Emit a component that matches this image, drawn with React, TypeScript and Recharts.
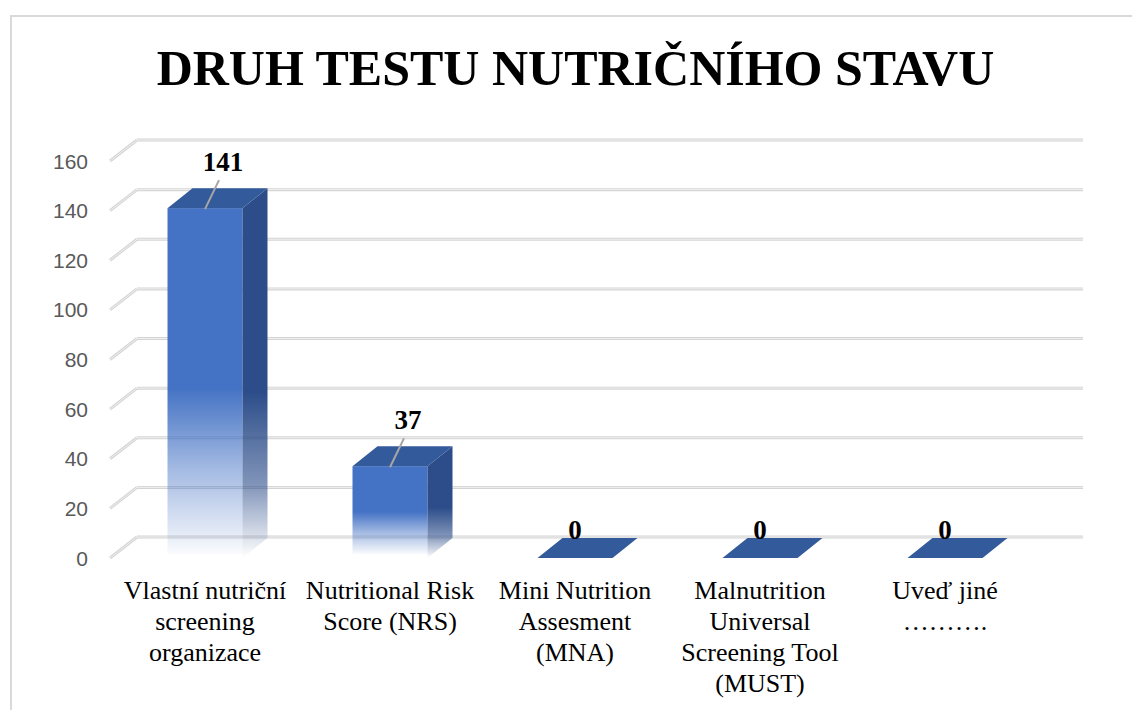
import { BarChart, Bar, XAxis, YAxis, CartesianGrid, LabelList } from "recharts";

const categories = [
  "Vlastní nutriční screening organizace",
  "Nutritional Risk Score (NRS)",
  "Mini Nutrition Assesment (MNA)",
  "Malnutrition Universal Screening Tool (MUST)",
  "Uveď jiné ……….",
];
const categoryLines = [
  ["Vlastní nutriční", "screening", "organizace"],
  ["Nutritional Risk", "Score (NRS)"],
  ["Mini Nutrition", "Assesment", "(MNA)"],
  ["Malnutrition", "Universal", "Screening Tool", "(MUST)"],
  ["Uveď jiné", "………."],
];
const counts = [141, 37, 0, 0, 0];
const yTicks = [0, 20, 40, 60, 80, 100, 120, 140, 160];

const data = categories.map((name, i) => ({ name, value: counts[i] }));

const SERIF = "'Liberation Serif', serif";
const SANS = "'Liberation Sans', sans-serif";

// depth offsets of the fake 3d look
const GX = 27;
const GY = -21;
const BX = 25;
const BY = -20;

const renderGridLine = (p: any) => {
  const { x1, y1, x2, index } = p;
  return (
    <g key={`grid-${index}`}>
      <line x1={x1} y1={y1} x2={x1 + GX} y2={y1 + GY} stroke="#d4d4d4" strokeWidth={3} />
      <line x1={x1} y1={y1} x2={x1 + GX} y2={y1 + GY} stroke="#f0f0f0" strokeWidth={1} />
      <line x1={x1 + GX} y1={y1 + GY} x2={x2 + GX} y2={y1 + GY} stroke="#d4d4d4" strokeWidth={3} />
      <line x1={x1 + GX} y1={y1 + GY} x2={x2 + GX} y2={y1 + GY} stroke="#f0f0f0" strokeWidth={1} />
    </g>
  );
};

const Bar3D = (props: any) => {
  const { x, y, width: w, height: h } = props;
  const top = `${x},${y} ${x + BX},${y + BY} ${x + w + BX},${y + BY} ${x + w},${y}`;
  if (!h || h <= 0) {
    return <polygon points={top} fill="#335a9a" />;
  }
  const side = `${x + w},${y} ${x + w + BX},${y + BY} ${x + w + BX},${y + h + BY} ${x + w},${y + h}`;
  return (
    <g>
      <rect x={x} y={y} width={w} height={h - 4} fill="url(#frontFade)" />
      <line x1={x + 0.5} y1={y} x2={x + 0.5} y2={y + h - 4} stroke="url(#edgeFade)" strokeWidth={1} />
      <line x1={x + w - 0.5} y1={y} x2={x + w - 0.5} y2={y + h - 4} stroke="url(#edgeFade)" strokeWidth={1} />
      <polygon points={side} fill="url(#sideFade)" />
      <polygon points={top} fill="#335a9a" />
    </g>
  );
};

const ValueLabel = (props: any) => {
  const { x, y, width: w, value } = props;
  const cx = x + w / 2;
  if (!value) {
    return (
      <text x={cx} y={y - 19} textAnchor="middle" style={{ fontFamily: SERIF }} fontWeight="bold" fontSize={27} fill="#000">
        {value}
      </text>
    );
  }
  return (
    <g>
      <line x1={cx} y1={y + 1} x2={cx + 14} y2={y - 28} stroke="#a6a6a6" strokeWidth={2} />
      <text x={cx + 18} y={y - 37} textAnchor="middle" style={{ fontFamily: SERIF }} fontWeight="bold" fontSize={27} fill="#000">
        {value}
      </text>
    </g>
  );
};

const YTick = (props: any) => {
  const { x, y, payload } = props;
  return (
    <text x={x} y={y} dy="0.36em" textAnchor="end" style={{ fontFamily: SANS }} fontSize={21} fill="#595959">
      {payload.value}
    </text>
  );
};

const XTick = (props: any) => {
  const { x, y, index } = props;
  const lines = categoryLines[index] ?? [];
  return (
    <text x={x} y={y + 41} textAnchor="middle" style={{ fontFamily: SERIF }} fontSize={26} fill="#000">
      {lines.map((l, i) => (
        <tspan key={i} x={x} dy={i === 0 ? 0 : 31}>
          {l}
        </tspan>
      ))}
    </text>
  );
};

export default function App() {
  return (
    <div style={{ position: "absolute", left: 0, top: 0, width: 1132, height: 710, background: "#fff", overflow: "hidden" }}>
      <div
        style={{
          position: "absolute",
          left: 10,
          top: 15,
          width: 1130,
          height: 700,
          borderLeft: "2px solid #d9d9d9",
          borderTop: "2px solid #d9d9d9",
        }}
      />
      <div
        style={{
          position: "absolute",
          left: 0,
          top: 43,
          width: 1151,
          textAlign: "center",
          fontFamily: SERIF,
          fontWeight: "bold",
          fontSize: 50,
          lineHeight: "50px",
          color: "#000",
          whiteSpace: "nowrap",
        }}
      >
        DRUH TESTU NUTRIČNÍHO STAVU
      </div>
      <div style={{ position: "absolute", left: 0, top: 0 }}>
        <BarChart width={1132} height={710} data={data} margin={{ top: 161, right: 76, bottom: 22, left: 0 }}>
          <defs>
            <linearGradient id="frontFade" x1="0" y1="0" x2="0" y2="1">
              <stop offset="0" stopColor="#4472c4" stopOpacity={1} />
              <stop offset="0.52" stopColor="#4472c4" stopOpacity={1} />
              <stop offset="0.75" stopColor="#4472c4" stopOpacity={0.5} />
              <stop offset="1" stopColor="#4472c4" stopOpacity={0.03} />
            </linearGradient>
            <linearGradient id="sideFade" x1="0" y1="0" x2="0" y2="1">
              <stop offset="0" stopColor="#2c4d8a" stopOpacity={1} />
              <stop offset="0.55" stopColor="#2c4d8a" stopOpacity={1} />
              <stop offset="0.8" stopColor="#2c4d8a" stopOpacity={0.6} />
              <stop offset="1" stopColor="#2c4d8a" stopOpacity={0} />
            </linearGradient>
            <linearGradient id="edgeFade" x1="0" y1="0" x2="0" y2="1">
              <stop offset="0" stopColor="#7396d6" stopOpacity={1} />
              <stop offset="1" stopColor="#7396d6" stopOpacity={0.1} />
            </linearGradient>
          </defs>
          <CartesianGrid vertical={false} horizontal={renderGridLine} />
          <XAxis
            dataKey="name"
            axisLine={false}
            tickLine={false}
            tickSize={0}
            tickMargin={0}
            height={130}
            interval={0}
            padding={{ left: 2.5, right: 18.5 }}
            tick={<XTick />}
          />
          <YAxis
            domain={[0, 160]}
            ticks={yTicks}
            width={110}
            axisLine={false}
            tickLine={false}
            tickSize={0}
            tickMargin={22}
            tick={<YTick />}
          />
          <Bar dataKey="value" barSize={75} shape={<Bar3D />} isAnimationActive={false}>
            <LabelList dataKey="value" content={<ValueLabel />} />
          </Bar>
        </BarChart>
      </div>
    </div>
  );
}
